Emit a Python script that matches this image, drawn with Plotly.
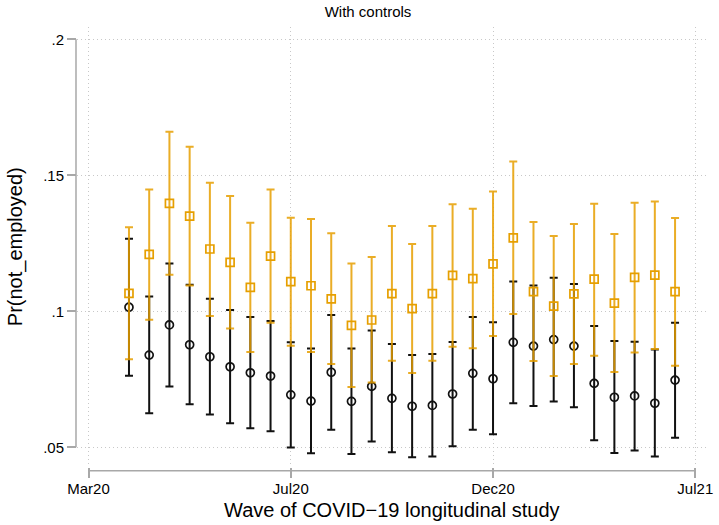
import plotly.graph_objects as go

# Survey waves (numeric position on the time axis)
wave = [2, 3, 4, 5, 6, 7, 8, 9, 10, 11, 12, 13, 14, 15,
        16, 17, 18, 19, 20, 21, 22, 23, 24, 25, 26, 27, 28, 29]

# Series 1 (black, circles): margin and 95% CI
s1_mean = [.1015, .0839, .0950, .0877, .0833, .0796, .0774, .0762, .0693, .0670,
           .0776, .0669, .0724, .0680, .0651, .0654, .0696, .0772, .0752, .0886,
           .0872, .0896, .0872, .0735, .0684, .0689, .0662, .0747]
s1_lo = [.0763, .0625, .0724, .0658, .0621, .0588, .0570, .0559, .0499, .0478,
         .0565, .0475, .0521, .0482, .0463, .0466, .0504, .0565, .0548, .0662,
         .0652, .0668, .0647, .0526, .0479, .0488, .0466, .0535]
s1_hi = [.1267, .1054, .1176, .1098, .1046, .1005, .0979, .0964, .0886, .0863,
         .0986, .0863, .0929, .0880, .0839, .0843, .0887, .0979, .0960, .1110,
         .1095, .1123, .1100, .0946, .0891, .0888, .0860, .0958]

# Series 2 (orange, squares): margin and 95% CI
s2_mean = [.1066, .1209, .1397, .1350, .1229, .1180, .1088, .1203, .1109, .1094,
           .1046, .0948, .0968, .1065, .1010, .1065, .1132, .1120, .1174, .1270,
           .1072, .1019, .1064, .1118, .1030, .1125, .1133, .1072]
s2_lo = [.0824, .0969, .1134, .1095, .0983, .0937, .0850, .0958, .0873, .0850,
         .0806, .0722, .0738, .0818, .0773, .0818, .0870, .0864, .0909, .0990,
         .0817, .0762, .0806, .0837, .0777, .0849, .0861, .0800]
s2_hi = [.1309, .1448, .1660, .1605, .1473, .1424, .1326, .1448, .1344, .1339,
         .1287, .1176, .1200, .1314, .1247, .1314, .1394, .1377, .1440, .1551,
         .1328, .1277, .1321, .1395, .1284, .1399, .1404, .1343]

x_tickvals = [0, 10, 20, 30]
x_ticktext = ["Mar20", "Jul20", "Dec20", "Jul21"]
y_tickvals = [.05, .10, .15, .20]
y_ticktext = [".05", ".1", ".15", ".2"]

FONT = "Liberation Sans, Arial, Helvetica, sans-serif"
AXIS_GREY = "#a8a8a8"
GRID_GREY = "#c8c8c8"
BLACK = "#111111"
ORANGE = "#E69F00"


def ci_bars(mean, lo, hi, color):
    return dict(type="data", symmetric=False,
                array=[h - m for m, h in zip(mean, hi)],
                arrayminus=[m - l for m, l in zip(mean, lo)],
                color=color, thickness=2, width=4)


fig = go.Figure()
fig.add_trace(go.Scatter(
    x=wave, y=s1_mean, mode="markers",
    marker=dict(symbol="circle-open", size=8, color=BLACK, line=dict(width=1.7, color=BLACK)),
    error_y=ci_bars(s1_mean, s1_lo, s1_hi, BLACK),
    showlegend=False, hoverinfo="skip"))
fig.add_trace(go.Scatter(
    x=wave, y=s2_mean, mode="markers",
    marker=dict(symbol="square-open", size=8, color=ORANGE, line=dict(width=1.7, color=ORANGE)),
    error_y=ci_bars(s2_mean, s2_lo, s2_hi, "rgba(230,159,0,0.85)"),
    showlegend=False, hoverinfo="skip"))

# Axis lines drawn only across the labelled range, set slightly off the plot region
fig.add_shape(type="line", xref="x", yref="paper", x0=0, x1=30, y0=-0.0084, y1=-0.0084,
              line=dict(color=AXIS_GREY, width=1.5))
fig.add_shape(type="line", xref="paper", yref="y", x0=-0.0016, x1=-0.0016, y0=.05, y1=.20,
              line=dict(color=AXIS_GREY, width=1.5))

fig.update_layout(
    width=719, height=525,
    margin=dict(l=77, r=6, t=27, b=58),
    paper_bgcolor="white", plot_bgcolor="white",
    font=dict(family=FONT, color="black"),
    title=dict(text="With controls", x=368 / 719, xref="container", xanchor="center",
               y=1 - 12 / 525, yref="container", yanchor="middle",
               font=dict(size=15, family=FONT, color="black")),
    xaxis=dict(range=[-0.57, 30.53], tickvals=x_tickvals, ticktext=x_ticktext,
               ticks="outside", ticklen=10, tickwidth=1.5, tickcolor=AXIS_GREY,
               tickfont=dict(size=15, family=FONT, color="black"),
               ticklabeloverflow="allow", ticklabelstandoff=-2,
               showgrid=True, gridcolor=GRID_GREY, gridwidth=1, griddash="1px,3px",
               showline=False, zeroline=False),
    yaxis=dict(range=[.04276, .20452], tickvals=y_tickvals, ticktext=y_ticktext,
               ticks="outside", ticklen=9, tickwidth=1.5, tickcolor=AXIS_GREY,
               tickfont=dict(size=15, family=FONT, color="black"),
               showgrid=True, gridcolor=GRID_GREY, gridwidth=1, griddash="1px,3px",
               showline=False, zeroline=False),
    annotations=[
        dict(text="Wave of COVID\u221219 longitudinal study", xref="paper", yref="paper",
             x=0.5, y=-(510 - 467) / 440, xanchor="center", yanchor="middle",
             showarrow=False, font=dict(size=20, family=FONT, color="black")),
        dict(text="Pr(not_employed)", xref="paper", yref="paper",
             x=-(77 - 14.5) / 636, y=0.5, xanchor="center", yanchor="middle",
             textangle=-90, showarrow=False, font=dict(size=20, family=FONT, color="black")),
    ],
)

fig.write_html("out.html")
